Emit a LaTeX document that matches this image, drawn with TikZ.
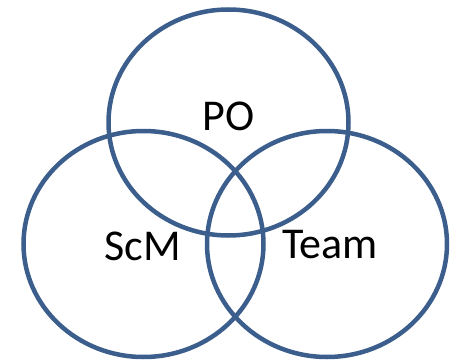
\documentclass[tikz,border=0pt]{standalone}
\usepackage{fontspec}
\setmainfont{Carlito}
\usetikzlibrary{shapes.geometric}
\definecolor{ringblue}{RGB}{59,94,140}

\begin{document}
\begin{tikzpicture}[x=1pt, y=-1pt]
        % Estilos para los anillos y las etiquetas
        \tikzstyle{ring} = [draw=ringblue, line width=4.5pt, ellipse, inner sep=0pt, minimum width=240pt, minimum height=226pt]
        \tikzstyle{tag} = [font=\fontsize{44}{52}\selectfont, inner sep=0pt, anchor=base]

        \useasboundingbox (0,0) rectangle (458,361);

        % Anillos
        \node [ring] (po) at (228.5,122.5) {};
        \node [ring] (scm) at (143.5,244) {};
        \node [ring] (team) at (327,244) {};

        % Etiquetas
        \node [tag] (poText) at ([yshift=-7.5pt]po.center) {PO};
        \node [tag] (scmText) at ([xshift=-1pt, yshift=-16pt]scm.center) {ScM};
        \node [tag] (teamText) at ([xshift=3pt, yshift=-14pt]team.center) {Team};

\end{tikzpicture}
\end{document}
